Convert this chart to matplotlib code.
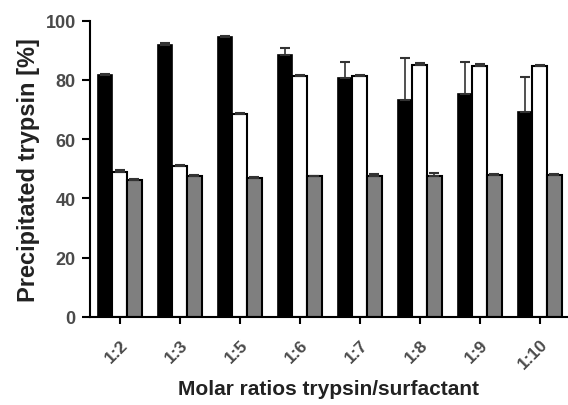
"""Precipitated trypsin vs molar ratio bar chart"""

import matplotlib
matplotlib.use("Agg")
import matplotlib.pyplot as plt
import numpy as np

plt.rcParams['font.family'] = ['Liberation Sans', 'DejaVu Sans']

ratios = ["1:2", "1:3", "1:5", "1:6", "1:7", "1:8", "1:9", "1:10"]
black_vals = [81.6, 91.8, 94.3, 88.4, 80.6, 73.3, 75.2, 69.0]
black_err = [0.5, 0.5, 0.5, 2.3, 5.3, 14.2, 10.7, 11.8]
white_vals = [48.9, 50.8, 68.5, 81.4, 81.2, 85.1, 84.8, 84.5]
white_err = [0.5, 0.5, 0.3, 0.3, 0.3, 0.4, 0.4, 0.4]
gray_vals = [46.2, 47.7, 46.9, 47.4, 47.7, 47.7, 48.0, 47.9]
gray_err = [0.3, 0.3, 0.3, 0.3, 0.5, 0.9, 0.3, 0.3]

fig = plt.figure(figsize=(5.68, 4.06), dpi=100)
ax = fig.add_axes([0.158, 0.217, 0.842, 0.73])

x = np.arange(len(ratios))
w = 0.245
err_kw = dict(ecolor="#333333", elinewidth=1.2, capsize=3.5, capthick=1.5)
ax.bar(x - w, black_vals, w, color="black", edgecolor="black", linewidth=1.2,
       yerr=[np.zeros(len(x)), black_err], error_kw=err_kw, zorder=2)
ax.bar(x, white_vals, w, color="white", edgecolor="black", linewidth=1.5,
       yerr=[np.zeros(len(x)), white_err], error_kw=err_kw, zorder=2)
ax.bar(x + w, gray_vals, w, color="#7f7f7f", edgecolor="black", linewidth=1.5,
       yerr=[np.zeros(len(x)), gray_err], error_kw=err_kw, zorder=2)

ax.set_xlim(-0.5, 7.47)
ax.set_ylim(0, 100)
ax.set_yticks([0, 20, 40, 60, 80, 100])
ax.set_xticks(x)
ax.set_xticklabels(ratios, rotation=45, ha="right", rotation_mode="anchor")

for s in ["top", "right"]:
    ax.spines[s].set_visible(False)
ax.spines["left"].set_linewidth(1.5)
ax.spines["bottom"].set_linewidth(1.5)
ax.tick_params(axis="y", direction="out", width=1.5, length=6,
               labelsize=13, labelcolor="#4a4a4a", pad=4)
ax.tick_params(axis="x", direction="out", width=1.5, length=5,
               labelsize=12.5, labelcolor="#4a4a4a", pad=9)
for lab in ax.get_xticklabels() + ax.get_yticklabels():
    lab.set_fontweight("bold")

ax.set_ylabel("Precipitated trypsin [%]", fontsize=17, fontweight="bold",
              color="#222222", labelpad=4)
ax.set_xlabel("Molar ratios trypsin/surfactant", fontsize=15,
              fontweight="bold", color="#222222", labelpad=5)

fig.savefig("out.png", dpi=100)
